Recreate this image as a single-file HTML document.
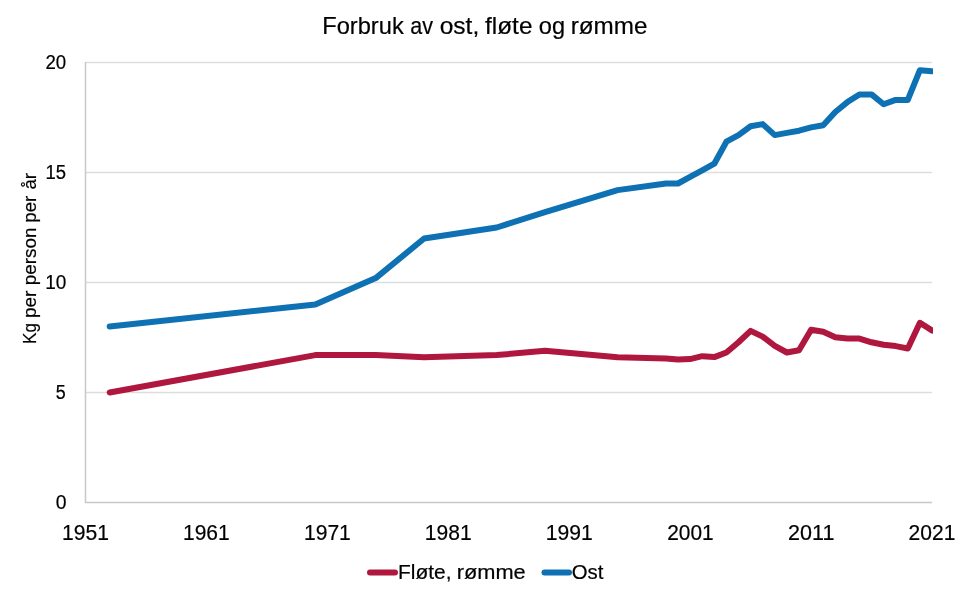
<!DOCTYPE html>
<html><head><meta charset="utf-8">
<style>
html,body{margin:0;padding:0;background:#fff;}
body{width:970px;height:597px;overflow:hidden;}
svg{display:block;will-change:transform;}
text{font-family:"Liberation Sans",sans-serif;fill:#000;stroke:#000;stroke-width:0.2px;}
</style></head><body>
<svg width="970" height="597" viewBox="0 0 970 597">
<rect x="0" y="0" width="970" height="597" fill="#fff"/>
<defs><clipPath id="pa"><rect x="85.0" y="40" width="848.0" height="480"/></clipPath></defs>
<line x1="85.0" y1="392.5" x2="932.0" y2="392.5" stroke="#DDDDDD" stroke-width="1.5"/>
<line x1="85.0" y1="282.5" x2="932.0" y2="282.5" stroke="#DDDDDD" stroke-width="1.5"/>
<line x1="85.0" y1="172.5" x2="932.0" y2="172.5" stroke="#DDDDDD" stroke-width="1.5"/>
<line x1="85.0" y1="62.5" x2="932.0" y2="62.5" stroke="#DDDDDD" stroke-width="1.5"/>
<line x1="85.5" y1="62" x2="85.5" y2="503.0" stroke="#C8C8C8" stroke-width="1.5"/>
<line x1="85.0" y1="502.5" x2="932.0" y2="502.5" stroke="#C8C8C8" stroke-width="1.5"/>
<g clip-path="url(#pa)" fill="none" stroke-linejoin="round" stroke-linecap="round" stroke-width="6">
<polyline points="109.7,392.5 315.3,355.1 375.7,355.1 424.1,357.3 496.7,355.1 545.0,350.7 617.6,357.3 666.0,358.4 678.0,359.5 690.1,359.1 702.2,356.2 714.3,357.1 726.4,352.5 738.5,342.3 750.6,330.9 762.7,336.6 774.8,345.9 786.9,352.5 799.0,350.3 811.1,329.8 823.2,331.8 835.3,337.3 847.4,338.6 859.4,338.6 871.5,342.3 883.6,344.8 895.7,346.1 907.8,348.5 919.9,322.8 932.0,330.5" stroke="#B0173F"/>
<polyline points="109.7,326.5 315.3,304.5 375.7,278.1 424.1,238.5 496.7,227.5 545.0,212.1 617.6,190.1 666.0,183.5 678.0,183.5 690.1,176.9 702.2,170.3 714.3,163.7 726.4,141.7 738.5,135.1 750.6,126.3 762.7,124.1 774.8,135.1 786.9,132.9 799.0,130.7 811.1,127.4 823.2,125.2 835.3,112.0 847.4,102.1 859.4,94.4 871.5,94.4 883.6,104.3 895.7,99.9 907.8,99.9 919.9,70.2 932.0,71.3" stroke="#0E71B4"/>
</g>
<line x1="370" y1="572.5" x2="395" y2="572.5" stroke="#B0173F" stroke-width="6" stroke-linecap="round"/>
<line x1="544.5" y1="572.5" x2="569" y2="572.5" stroke="#0E71B4" stroke-width="6" stroke-linecap="round"/>
<text x="322.25" y="34" font-size="23.8" textLength="81.47" lengthAdjust="spacingAndGlyphs">Forbruk</text>
<text x="410.36" y="34" font-size="23.8" textLength="22.73" lengthAdjust="spacingAndGlyphs">av</text>
<text x="439.69" y="34" font-size="23.8" textLength="39.53" lengthAdjust="spacingAndGlyphs">ost,</text>
<text x="485.04" y="34" font-size="23.8" textLength="47.40" lengthAdjust="spacingAndGlyphs">fløte</text>
<text x="538.78" y="34" font-size="23.8" textLength="26.24" lengthAdjust="spacingAndGlyphs">og</text>
<text x="570.67" y="34" font-size="23.8" textLength="76.74" lengthAdjust="spacingAndGlyphs">rømme</text>
<text x="398.06" y="579" font-size="20.5" textLength="53.44" lengthAdjust="spacingAndGlyphs">Fløte,</text>
<text x="456.67" y="579" font-size="20.5" textLength="69.08" lengthAdjust="spacingAndGlyphs">rømme</text>
<text x="571.83" y="579" font-size="20.5" textLength="31.58" lengthAdjust="spacingAndGlyphs">Ost</text>
<text x="55.68" y="509" font-size="19.5" textLength="10.80" lengthAdjust="spacingAndGlyphs">0</text>
<text x="55.77" y="399" font-size="19.5" textLength="9.98" lengthAdjust="spacingAndGlyphs">5</text>
<text x="45.22" y="289" font-size="19.5" textLength="21.14" lengthAdjust="spacingAndGlyphs">10</text>
<text x="45.44" y="179" font-size="19.5" textLength="20.56" lengthAdjust="spacingAndGlyphs">15</text>
<text x="45.52" y="69" font-size="19.5" textLength="20.72" lengthAdjust="spacingAndGlyphs">20</text>
<text x="62.03" y="540" font-size="21.85" textLength="46.95" lengthAdjust="spacingAndGlyphs">1951</text>
<text x="183.03" y="540" font-size="21.85" textLength="46.69" lengthAdjust="spacingAndGlyphs">1961</text>
<text x="303.98" y="540" font-size="21.85" textLength="46.88" lengthAdjust="spacingAndGlyphs">1971</text>
<text x="424.83" y="540" font-size="21.85" textLength="46.81" lengthAdjust="spacingAndGlyphs">1981</text>
<text x="545.75" y="540" font-size="21.85" textLength="46.98" lengthAdjust="spacingAndGlyphs">1991</text>
<text x="667.21" y="540" font-size="21.85" textLength="46.41" lengthAdjust="spacingAndGlyphs">2001</text>
<text x="788.12" y="540" font-size="21.85" textLength="46.32" lengthAdjust="spacingAndGlyphs">2011</text>
<text x="908.61" y="540" font-size="21.85" textLength="46.74" lengthAdjust="spacingAndGlyphs">2021</text>
<text transform="translate(36,344.00) rotate(-90)" font-size="19" textLength="20.94" lengthAdjust="spacingAndGlyphs">Kg</text>
<text transform="translate(36,318.12) rotate(-90)" font-size="19" textLength="27.57" lengthAdjust="spacingAndGlyphs">per</text>
<text transform="translate(36,285.17) rotate(-90)" font-size="19" textLength="57.73" lengthAdjust="spacingAndGlyphs">person</text>
<text transform="translate(36,222.66) rotate(-90)" font-size="19" textLength="27.00" lengthAdjust="spacingAndGlyphs">per</text>
<text transform="translate(36,189.62) rotate(-90)" font-size="19" textLength="16.53" lengthAdjust="spacingAndGlyphs">år</text>
</svg>
</body></html>
